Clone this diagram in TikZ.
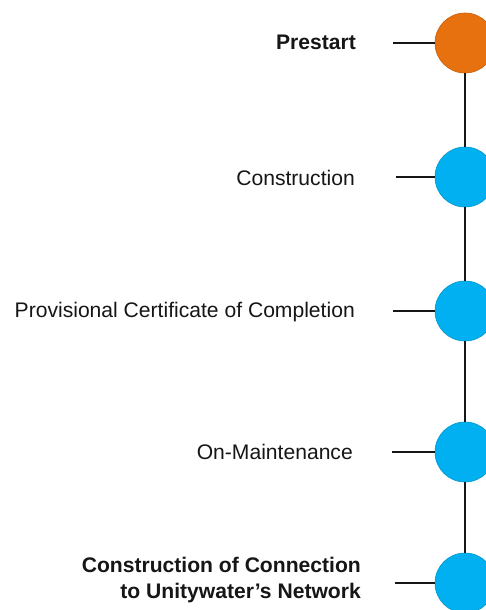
\documentclass[tikz,border=0pt]{standalone}
\usepackage{fontspec}
\setmainfont{Liberation Sans}
\definecolor{stageorange}{HTML}{E8710F}
\definecolor{stageblue}{HTML}{00B0F0}
\definecolor{inkgray}{HTML}{161616}
\begin{document}
\begin{tikzpicture}[x=1pt,y=-1pt,
  stagedot/.style={circle,minimum size=60pt,inner sep=0pt,line width=0.6pt},
  bluedot/.style={stagedot,fill=stageblue,draw=stageblue!85!black},
  orangedot/.style={stagedot,fill=stageorange,draw=stageorange!85!black},
  label/.style={anchor=east,inner sep=0pt,text=inkgray,font=\fontsize{21.1}{26}\selectfont},
  boldlabel/.style={label,font=\fontsize{21.1}{26}\selectfont\bfseries,align=right},
  tick/.style={draw=inkgray,line width=1.8pt},
  spine/.style={draw=inkgray,line width=2.6pt}]
\clip (0,0) rectangle (486,610);
\fill[white] (0,0) rectangle (486,610);
\node[orangedot] (c1) at (465,43) {};
\node[bluedot] (c2) at (465,177) {};
\node[bluedot] (c3) at (465,311) {};
\node[bluedot] (c4) at (465,452) {};
\node[bluedot] (c5) at (465,583) {};
\draw[spine] (c1.south) -- (c2.north);
\draw[spine] (c2.south) -- (c3.north);
\draw[spine] (c3.south) -- (c4.north);
\draw[spine] (c4.south) -- (c5.north);
\coordinate (t1) at (393,43);
\coordinate (t2) at (396,177);
\coordinate (t3) at (393,311);
\coordinate (t4) at (392,452);
\coordinate (t5) at (395,583);
\draw[tick] (t1) -- (c1.west);
\draw[tick] (t2) -- (c2.west);
\draw[tick] (t3) -- (c3.west);
\draw[tick] (t4) -- (c4.west);
\draw[tick] (t5) -- (c5.west);
\node[boldlabel] (n1) at (356,42) {Prestart};
\node[label] (n2) at (355,178) {Construction};
\node[label] (n3) at (355,312) {Provisional Certificate of Completion};
\node[label] (n4) at (353,452) {On-Maintenance};
\node[boldlabel] (n5) at (361,580) {Construction of Connection\\to Unitywater’s Network};
\end{tikzpicture}
\end{document}
